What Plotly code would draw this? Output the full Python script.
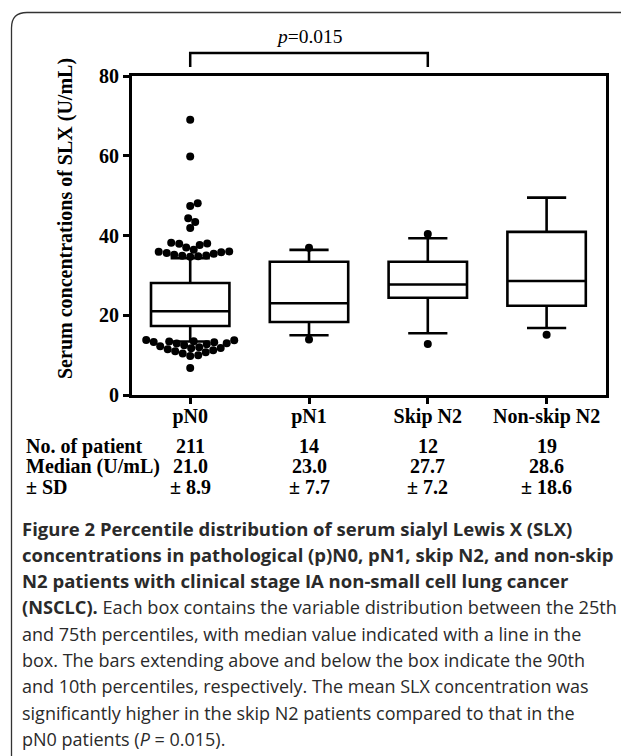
import plotly.graph_objects as go

# ---------------- data ----------------
categories = ["pN0", "pN1", "Skip N2", "Non-skip N2"]
q1_vals = [17.3, 18.3, 24.4, 22.4]
median_vals = [21.0, 23.0, 27.7, 28.6]
q3_vals = [28.1, 33.4, 33.4, 40.9]
p10_vals = [13.4, 15.0, 15.5, 16.8]
p90_vals = [34.3, 36.4, 39.3, 49.5]

outliers_pN0 = [69.0, 59.8, 48.1, 47.4, 44.3, 43.4, 41.9, 38.2, 38.0, 37.9, 37.6,
                37.0, 36.4, 36.0, 35.9, 35.8, 35.6, 35.4, 35.2, 35.0, 34.9, 34.8,
                34.7, 13.8, 13.7, 13.5, 13.4, 13.3, 13.2, 13.0, 12.9, 12.7, 12.5,
                12.2, 12.0, 11.8, 11.7, 11.5, 11.2, 11.0, 10.7, 10.4, 10.0, 9.8, 6.8]
outliers_pN1 = [36.9, 13.9]
outliers_skip = [40.4, 12.8]
outliers_nonskip = [15.1]
outliers = [outliers_pN0, outliers_pN1, outliers_skip, outliers_nonskip]

n_patients = ["211", "14", "12", "19"]
median_text = ["21.0", "23.0", "27.7", "28.6"]
sd_text = ["± 8.9", "± 7.7", "± 7.2", "± 18.6"]
row_labels = ["No. of patient", "Median (U/mL)", "± SD"]
p_text = "<i>p</i>=0.015"

caption_lines = [
    "<b>Figure 2 Percentile distribution of serum sialyl Lewis X (SLX)</b>",
    "<b>concentrations in pathological (p)N0, pN1, skip N2, and non-skip</b>",
    "<b>N2 patients with clinical stage IA non-small cell lung cancer</b>",
    "<b>(NSCLC).</b> Each box contains the variable distribution between the 25th",
    "and 75th percentiles, with median value indicated with a line in the",
    "box. The bars extending above and below the box indicate the 90th",
    "and 10th percentiles, respectively. The mean SLX concentration was",
    "significantly higher in the skip N2 patients compared to that in the",
    "pN0 patients (<i>P</i> = 0.015).",
]
caption_sizes = [18.5, 18.5, 18.5, 18.2, 18, 18, 18, 18, 18]

# ---------------- layout geometry ----------------
W, H = 621, 756
PL, PR, PT, PB = 132, 606, 76, 395
XR = [-0.49, 3.5]
YR = [0, 80]
PX_X = (PR - PL) / (XR[1] - XR[0])
PX_Y = (PB - PT) / (YR[1] - YR[0])


def py(ypix):
    return (PB - ypix) / (PB - PT)


def px(xpix):
    return (xpix - PL) / (PR - PL)


def swarm(vals, diam=7.6):
    placed = []
    order = sorted(range(len(vals)), key=lambda i: vals[i])
    res = [0.0] * len(vals)
    for i in order:
        yp = vals[i] * PX_Y
        best = None
        k = 0
        while best is None:
            cands = [0.0] if k == 0 else [k * 0.5, -k * 0.5]
            for o in cands:
                if all((o - po) ** 2 + (yp - pyy) ** 2 >= diam * diam for po, pyy in placed):
                    best = o
                    break
            k += 1
        placed.append((best, yp))
        res[i] = best / PX_X
    return res


SERIF = "Liberation Serif"
fig = go.Figure()

for i, cat in enumerate(categories):
    fig.add_trace(go.Box(
        x=[i], q1=[q1_vals[i]], median=[median_vals[i]], q3=[q3_vals[i]],
        lowerfence=[p10_vals[i]], upperfence=[p90_vals[i]],
        width=0.66, whiskerwidth=0.5, boxpoints=False,
        fillcolor="white", line=dict(color="black", width=2.6),
        showlegend=False, hoverinfo="skip",
    ))

for i, vals in enumerate(outliers):
    offs = swarm(vals)
    fig.add_trace(go.Scatter(
        x=[i + o for o in offs], y=vals, mode="markers",
        marker=dict(color="black", size=8, line=dict(width=0)),
        showlegend=False, hoverinfo="skip", cliponaxis=False,
    ))

fig.update_xaxes(
    range=XR, tickvals=list(range(len(categories))), ticktext=categories,
    showline=True, linecolor="black", linewidth=3, mirror=True,
    ticks="outside", ticklen=6, tickwidth=2.5, tickcolor="black",
    showgrid=False, zeroline=False, ticklabelstandoff=-5,
    tickfont=dict(family=SERIF, size=20, color="black", weight="bold"),
)
fig.update_yaxes(
    range=YR, tickvals=[0, 20, 40, 60, 80],
    showline=True, linecolor="black", linewidth=3, mirror=True,
    ticks="outside", ticklen=6, tickwidth=2.5, tickcolor="black",
    showgrid=False, zeroline=False,
    tickfont=dict(family=SERIF, size=20, color="black", weight="bold"),
)

ann = []
# y-axis title
ann.append(dict(text="Serum concentrations of SLX (U/mL)", x=px(65), y=py(219),
                xref="paper", yref="paper", textangle=-90, showarrow=False,
                font=dict(family=SERIF, size=20, color="black", weight="bold"),
                xanchor="center", yanchor="middle"))
# p value
ann.append(dict(text=p_text, x=1, y=py(37), xref="x", yref="paper", showarrow=False,
                font=dict(family=SERIF, size=19.5, color="black"),
                xanchor="center", yanchor="middle"))
# table
row_y = [446, 466.5, 487]
rows = [n_patients, median_text, sd_text]
for r, lab in enumerate(row_labels):
    ann.append(dict(text=lab, x=px(24), y=py(row_y[r]), xref="paper", yref="paper",
                    showarrow=False, xanchor="left", yanchor="middle",
                    font=dict(family=SERIF, size=20, color="black", weight="bold")))
    for i, v in enumerate(rows[r]):
        ann.append(dict(text=v, x=i, y=py(row_y[r]), xref="x", yref="paper",
                        showarrow=False, xanchor="center", yanchor="middle",
                        font=dict(family=SERIF, size=20, color="black", weight="bold")))
# caption
cap_y0, cap_dy = 528, 26.4
for k, line in enumerate(caption_lines):
    ann.append(dict(text=line, x=px(20), y=py(cap_y0 + k * cap_dy), xref="paper", yref="paper",
                    showarrow=False, xanchor="left", yanchor="middle",
                    font=dict(family="Open Sans", size=caption_sizes[k], color="#2a2a2a")))

shapes = [
    # bracket
    dict(type="path", xref="x", yref="paper",
         path=f"M 0,{py(67)} L 0,{py(53)} L 2,{py(53)} L 2,{py(67)}",
         line=dict(color="black", width=2.5)),
    # rounded frame
    dict(type="path", xref="paper", yref="paper",
         path=(f"M {px(11.5)},{py(770)} L {px(11.5)},{py(28)} "
               f"Q {px(11.5)},{py(12.5)} {px(27)},{py(12.5)} L {px(640)},{py(12.5)}"),
         line=dict(color="#333333", width=1.3)),
]

fig.update_layout(
    width=W, height=H,
    margin=dict(l=PL, r=W - PR, t=PT, b=H - PB, autoexpand=False),
    paper_bgcolor="white", plot_bgcolor="white",
    annotations=ann, shapes=shapes,
)

fig.write_html("out.html", config={"displayModeBar": False},
               post_script="document.body.style.margin='0';document.body.style.overflow='hidden';")
